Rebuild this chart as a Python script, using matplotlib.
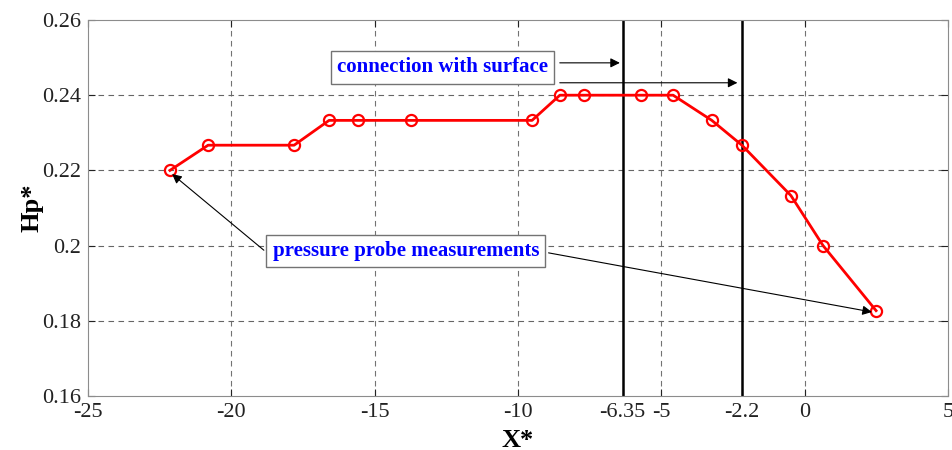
import matplotlib.pyplot as plt

# Данные: координата X* и давление Hp*
x_star = [-22.14, -20.81, -17.81, -16.59, -15.58, -13.73, -9.51, -8.54,
          -7.70, -5.71, -4.59, -3.24, -2.19, -0.48, 0.64, 2.49]
hp_star = [0.2200, 0.2267, 0.2267, 0.2333, 0.2333, 0.2333, 0.2333, 0.2400,
           0.2400, 0.2400, 0.2400, 0.2333, 0.2267, 0.2133, 0.2000, 0.1827]

surface_x = [-6.35, -2.2]
x_ticks = [-25, -20, -15, -10, -6.35, -5, -2.2, 0, 5]
x_tick_labels = ['-25', '-20', '-15', '-10', '-6.35', '-5', '-2.2', '0', '5']
y_ticks = [0.16, 0.18, 0.2, 0.22, 0.24, 0.26]
y_tick_labels = ['0.16', '0.18', '0.2', '0.22', '0.24', '0.26']

plt.rcParams['font.family'] = ['Liberation Serif', 'DejaVu Serif']

fig = plt.figure(figsize=(9.53, 4.5), dpi=100)
ax = fig.add_axes([0.0923, 0.12, 0.9025, 0.8356])

ax.axis([-25, 5, 0.16, 0.26])
ax.set_xticks(x_ticks)
ax.set_xticklabels(x_tick_labels)
ax.set_yticks(y_ticks)
ax.set_yticklabels(y_tick_labels)
ax.tick_params(direction='in', labelsize=16, colors='#222222', length=5,
               top=True, right=True)
ax.tick_params(axis='x', pad=5)
ax.tick_params(axis='y', pad=5)

# сетка только по "круглым" значениям
for xv in [-20, -15, -10, -5, 0]:
    ax.axvline(xv, color='0.45', linestyle=(0, (5, 4)), linewidth=0.8, zorder=0)
for yv in [0.18, 0.2, 0.22, 0.24]:
    ax.axhline(yv, color='0.4', linestyle=(0, (5, 4)), linewidth=0.8, zorder=0)

for s in ax.spines.values():
    s.set_color('0.55')
    s.set_linewidth(0.8)

# границы соединения с поверхностью
for xv in surface_x:
    ax.axvline(xv, color='black', linewidth=1.8, zorder=2)

ax.plot(x_star, hp_star, color='red', linewidth=2, marker='o', markersize=8,
        markerfacecolor='none', markeredgewidth=1.6, zorder=3)

ax.set_xlabel('X*', fontsize=19, fontweight='bold', labelpad=5)
ax.set_ylabel('Hp*', fontsize=19, fontweight='bold', labelpad=-1)

box = dict(boxstyle='square,pad=0.3', facecolor='white', edgecolor='0.45', linewidth=1)
txt_font = dict(fontsize=15, fontweight='bold', color='blue')

# подпись "connection with surface"
ax.text(-12.63, 0.2474, 'connection with surface', ha='center', va='center',
        bbox=box, zorder=5, **txt_font)
arrow = dict(arrowstyle='-|>', color='black', lw=0.8, mutation_scale=14)
ax.annotate('', xy=(-6.35, 0.2486), xytext=(-8.64, 0.2486), arrowprops=arrow, zorder=4)
ax.annotate('', xy=(-2.25, 0.2433), xytext=(-8.64, 0.2433), arrowprops=arrow, zorder=4)

# подпись "pressure probe measurements"
ax.text(-13.91, 0.1985, 'pressure probe measurements', ha='center', va='center',
        bbox=box, zorder=5, **txt_font)
ax.annotate('', xy=(x_star[0], hp_star[0] - 0.0005), xytext=(-18.79, 0.1983),
            arrowprops=arrow, zorder=4)
ax.annotate('', xy=(x_star[-1] - 0.05, hp_star[-1] - 0.0005), xytext=(-9.03, 0.1982),
            arrowprops=arrow, zorder=4)

fig.savefig('out.png', dpi=100)
